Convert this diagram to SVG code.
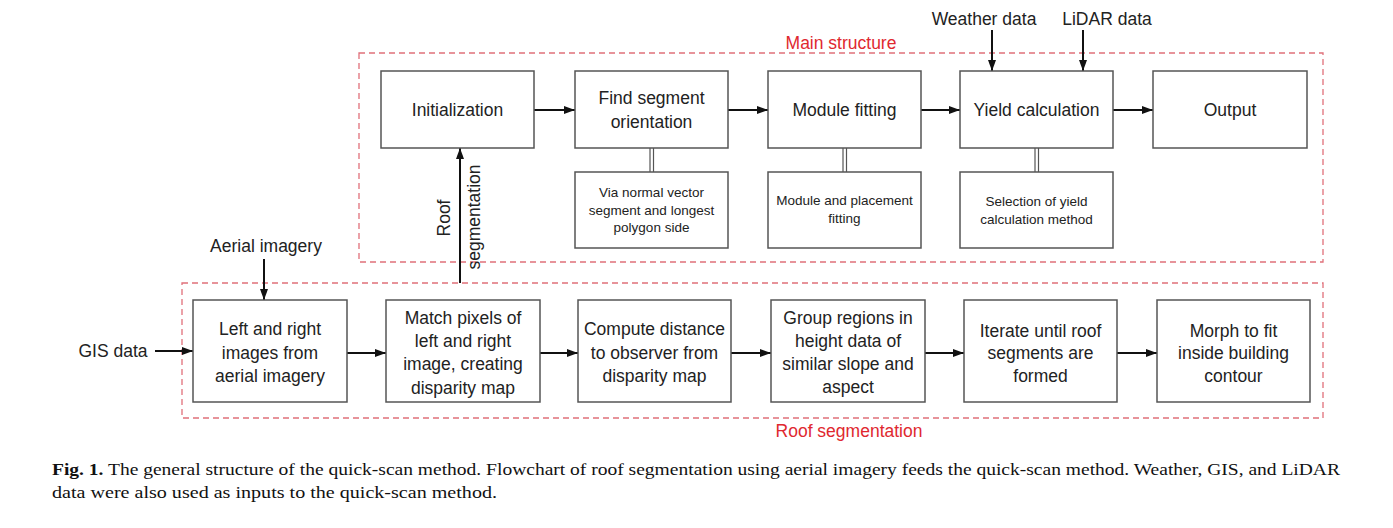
<svg xmlns="http://www.w3.org/2000/svg" width="1393" height="528" viewBox="0 0 1393 528">
<style>
.box{fill:#fff;stroke:#555;stroke-width:1.5}
.grp{fill:none;stroke:#e0707a;stroke-width:1.3;stroke-dasharray:6,4}
.t{font-family:"Liberation Sans",Arial,sans-serif;font-size:17.5px;fill:#222;text-anchor:middle}
.s{font-family:"Liberation Sans",Arial,sans-serif;font-size:13.5px;fill:#222;text-anchor:middle}
.r{font-family:"Liberation Sans",Arial,sans-serif;font-size:17.5px;fill:#e0282f;text-anchor:middle}
.a{fill:none;stroke:#111;stroke-width:2;marker-end:url(#ah)}
.d{fill:none;stroke:#555;stroke-width:1.2}
.cap{font-family:"Liberation Serif","Times New Roman",serif;font-size:16px;fill:#111}
</style>
<defs>
<marker id="ah" markerUnits="userSpaceOnUse" markerWidth="12" markerHeight="9" refX="11" refY="4" orient="auto">
<path d="M0,0 L11,4 L0,8 z" fill="#111"/>
</marker>
</defs>
<rect width="1393" height="528" fill="#fff"/>
<g id="main-structure">
<rect class="grp" x="359" y="53" width="964" height="209"/>
<text class="r" x="841" y="49">Main structure</text>
</g>
<g id="roof-segmentation-group">
<rect class="grp" x="182" y="283" width="1141" height="135"/>
<text class="r" x="849" y="437">Roof segmentation</text>
</g>
<g id="connectors">
<line class="a" x1="534" y1="110" x2="575" y2="110"/>
<line class="a" x1="728" y1="110" x2="768" y2="110"/>
<line class="a" x1="921" y1="110" x2="960" y2="110"/>
<line class="a" x1="1113" y1="110" x2="1153" y2="110"/>
<line class="a" x1="992" y1="30" x2="992" y2="71"/>
<line class="a" x1="1083" y1="30" x2="1083" y2="71"/>
<line class="d" x1="650" y1="148" x2="650" y2="172"/>
<line class="d" x1="653.5" y1="148" x2="653.5" y2="172"/>
<line class="d" x1="843" y1="148" x2="843" y2="172"/>
<line class="d" x1="846.5" y1="148" x2="846.5" y2="172"/>
<line class="d" x1="1035" y1="148" x2="1035" y2="172"/>
<line class="d" x1="1038.5" y1="148" x2="1038.5" y2="172"/>
<line class="a" x1="460" y1="283" x2="460" y2="148"/>
<line class="a" x1="264" y1="259" x2="264" y2="300"/>
<line class="a" x1="155" y1="351" x2="193" y2="351"/>
<line class="a" x1="347" y1="353" x2="386" y2="353"/>
<line class="a" x1="540" y1="353" x2="578" y2="353"/>
<line class="a" x1="731" y1="353" x2="771" y2="353"/>
<line class="a" x1="925" y1="353" x2="964" y2="353"/>
<line class="a" x1="1117" y1="353" x2="1157" y2="353"/>
</g>
<g id="label-roof-seg">
<text class="t" transform="translate(444,218) rotate(-90)" dominant-baseline="central">Roof</text>
<text class="t" transform="translate(474,217) rotate(-90)" dominant-baseline="central">segmentation</text>
</g>
<g id="weather-data"><text class="t" x="984" y="25">Weather data</text></g>
<g id="lidar-data"><text class="t" x="1107" y="25">LiDAR data</text></g>
<g id="aerial-imagery"><text class="t" x="266" y="252">Aerial imagery</text></g>
<g id="gis-data"><text class="t" x="113" y="357">GIS data</text></g>
<g id="initialization">
<rect class="box" x="381" y="71" width="153" height="77"/>
<text class="t" x="457.5" y="116">Initialization</text>
</g>
<g id="find-segment">
<rect class="box" x="575" y="71" width="153" height="77"/>
<text class="t" x="651.5" y="104">Find segment</text>
<text class="t" x="651.5" y="128">orientation</text>
</g>
<g id="module-fitting">
<rect class="box" x="768" y="71" width="153" height="77"/>
<text class="t" x="844.5" y="116">Module fitting</text>
</g>
<g id="yield-calculation">
<rect class="box" x="960" y="71" width="153" height="77"/>
<text class="t" x="1036.5" y="116">Yield calculation</text>
</g>
<g id="output">
<rect class="box" x="1153" y="71" width="154" height="77"/>
<text class="t" x="1230" y="116">Output</text>
</g>
<g id="via-normal">
<rect class="box" x="575" y="172" width="153" height="76"/>
<text class="s" x="651.5" y="197">Via normal vector</text>
<text class="s" x="651.5" y="214.5">segment and longest</text>
<text class="s" x="651.5" y="232">polygon side</text>
</g>
<g id="module-placement">
<rect class="box" x="768" y="172" width="153" height="76"/>
<text class="s" x="844.5" y="205">Module and placement</text>
<text class="s" x="844.5" y="223">fitting</text>
</g>
<g id="selection-yield">
<rect class="box" x="960" y="172" width="153" height="76"/>
<text class="s" x="1036.5" y="206">Selection of yield</text>
<text class="s" x="1036.5" y="223.5">calculation method</text>
</g>
<g id="left-right">
<rect class="box" x="193" y="300" width="154" height="102"/>
<text class="t" x="270" y="335">Left and right</text>
<text class="t" x="270" y="358.5">images from</text>
<text class="t" x="270" y="381.5">aerial imagery</text>
</g>
<g id="match-pixels">
<rect class="box" x="386" y="300" width="154" height="102"/>
<text class="t" x="463" y="324">Match pixels of</text>
<text class="t" x="463" y="347">left and right</text>
<text class="t" x="463" y="370">image, creating</text>
<text class="t" x="463" y="393.5">disparity map</text>
</g>
<g id="compute-distance">
<rect class="box" x="578" y="300" width="153" height="102"/>
<text class="t" x="654.5" y="335">Compute distance</text>
<text class="t" x="654.5" y="358.5">to observer from</text>
<text class="t" x="654.5" y="381.5">disparity map</text>
</g>
<g id="group-regions">
<rect class="box" x="771" y="300" width="154" height="102"/>
<text class="t" x="848" y="323.5">Group regions in</text>
<text class="t" x="848" y="346.5">height data of</text>
<text class="t" x="848" y="369.5">similar slope and</text>
<text class="t" x="848" y="393">aspect</text>
</g>
<g id="iterate">
<rect class="box" x="964" y="300" width="153" height="102"/>
<text class="t" x="1040.5" y="336.5">Iterate until roof</text>
<text class="t" x="1040.5" y="359">segments are</text>
<text class="t" x="1040.5" y="382">formed</text>
</g>
<g id="morph">
<rect class="box" x="1157" y="300" width="153" height="102"/>
<text class="t" x="1233.5" y="336.5">Morph to fit</text>
<text class="t" x="1233.5" y="359">inside building</text>
<text class="t" x="1233.5" y="382">contour</text>
</g>
<g id="caption">
<text class="cap" x="52" y="475" textLength="1288" lengthAdjust="spacingAndGlyphs"><tspan font-weight="bold">Fig. 1.</tspan> The general structure of the quick-scan method. Flowchart of roof segmentation using aerial imagery feeds the quick-scan method. Weather, GIS, and LiDAR</text>
<text class="cap" x="52" y="498" textLength="445" lengthAdjust="spacingAndGlyphs">data were also used as inputs to the quick-scan method.</text>
</g>
</svg>
